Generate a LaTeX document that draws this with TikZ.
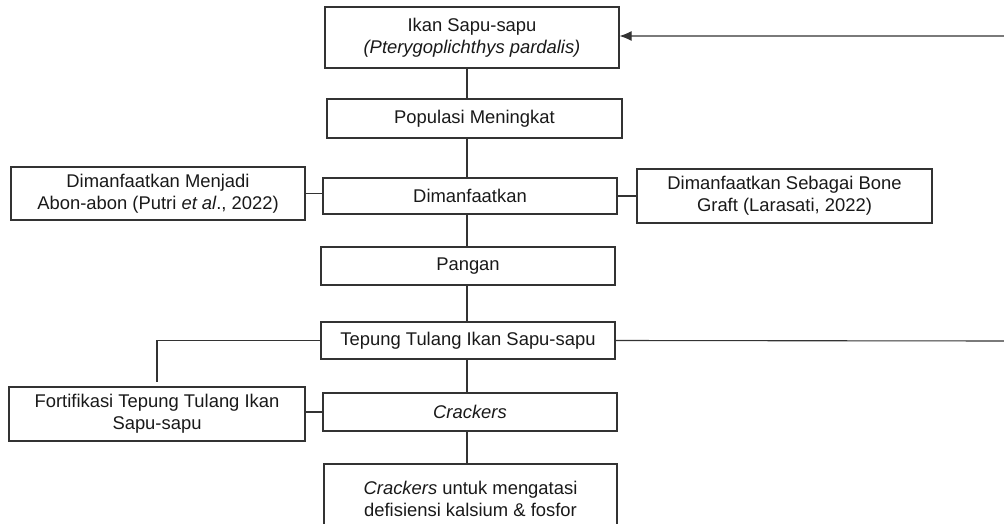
\documentclass[tikz,border=0pt]{standalone}
\usepackage{fontspec}
\setmainfont{Liberation Sans}
\usetikzlibrary{arrows.meta}
\begin{document}
\begin{tikzpicture}[x=1pt,y=-1pt,
  box/.style={draw=black!80, line width=1.1pt, align=center, inner sep=0pt,
    font=\fontsize{18.4}{22}\selectfont, text=black!90},
  conn/.style={draw=black!80, line width=1.1pt}]
\useasboundingbox (0,0) rectangle (1004,523);
\node[box, minimum width=294, minimum height=61] (ikan) at (472,37.5) {Ikan Sapu-sapu\\\textit{(Pterygoplichthys pardalis)}};
\node[box, minimum width=295, minimum height=39] (pop) at (474.5,118.5) {Populasi Meningkat};
\node[box, minimum width=294, minimum height=36] (dim) at (470,196) {Dimanfaatkan};
\node[box, minimum width=294, minimum height=53] (abon) at (158,193.5) {Dimanfaatkan Menjadi\\Abon-abon (Putri \textit{et al}., 2022)};
\node[box, minimum width=295, minimum height=54] (bone) at (784.5,196) {Dimanfaatkan Sebagai Bone\\Graft (Larasati, 2022)};
\node[box, minimum width=294, minimum height=38] (pangan) at (468,266) {Pangan};
\node[box, minimum width=294, minimum height=37] (tepung) at (468,340.5) {Tepung Tulang Ikan Sapu-sapu};
\node[box, minimum width=296, minimum height=54] (fort) at (157,414) {Fortifikasi Tepung Tulang Ikan\\Sapu-sapu};
\node[box, minimum width=294, minimum height=38] (crack) at (470,412) {\textit{Crackers}};
\node[box, minimum width=293, minimum height=70] (akhir) at (470.5,499) {\textit{Crackers} untuk mengatasi\\defisiensi kalsium \& fosfor};
\coordinate (spine) at (467,0);
\coordinate (loop) at (1012,341);
\draw[conn] (ikan.south -| spine) -- (pop.north -| spine);
\draw[conn] (pop.south -| spine) -- (dim.north -| spine);
\draw[conn] (dim.south -| spine) -- (pangan.north -| spine);
\draw[conn] (pangan.south -| spine) -- (tepung.north -| spine);
\draw[conn] (tepung.south -| spine) -- (crack.north -| spine);
\draw[conn] (crack.south -| spine) -- (akhir.north -| spine);
\draw[conn] (abon.east) -- (abon.east -| dim.west);
\draw[conn] (dim.east) -- (dim.east -| bone.west);
\draw[conn] (crack.west) -- (crack.west -| fort.east);
\draw[conn, shorten >=4pt] (tepung.west) -| (fort.north);
\draw[conn, -{Latex[length=12pt,width=10pt]}] (tepung.east) -- (loop) |- ([yshift=1.5pt]ikan.east);
\end{tikzpicture}
\end{document}
